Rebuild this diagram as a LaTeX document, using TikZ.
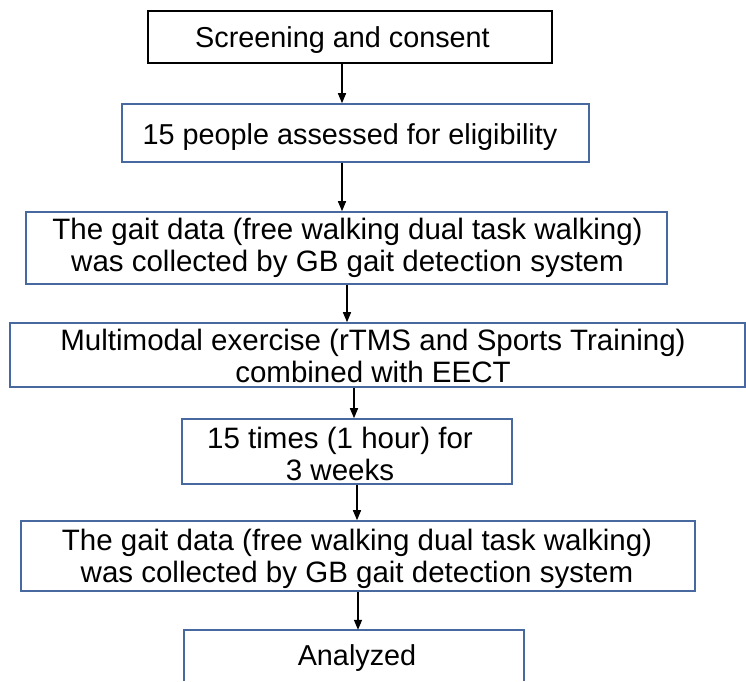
\documentclass[tikz,border=0pt]{standalone}
\usepackage{fontspec}
\setmainfont{Liberation Sans}
\usetikzlibrary{arrows.meta}
\definecolor{boxblue}{RGB}{72,104,160}
\tikzset{
  flowbox/.style={draw=boxblue, line width=1.6pt, inner sep=0pt},
  flowtext/.style={inner sep=0pt, align=center, font=\fontsize{#1}{32}\selectfont},
  flowtext/.default=29.5,
  arr/.style={draw=black, line width=1.4pt, -{Triangle[length=10pt,width=8pt]}}
}
\begin{document}
\begin{tikzpicture}[x=1pt,y=-1pt]
\useasboundingbox[fill=white] (0,0) rectangle (746,681);
% boxes
\node[flowbox, draw=black, minimum width=404pt, minimum height=52pt] (b1) at (350,37) {};
\node[flowbox, minimum width=467pt, minimum height=58pt] (b2) at (355.5,133) {};
\node[flowbox, minimum width=641pt, minimum height=72pt] (b3) at (346.5,248) {};
\node[flowbox, minimum width=735pt, minimum height=64pt] (b4) at (377.5,355) {};
\node[flowbox, minimum width=330pt, minimum height=65pt] (b5) at (347,451.5) {};
\node[flowbox, minimum width=674pt, minimum height=70pt] (b6) at (358,556) {};
\node[inner sep=0pt, minimum width=340pt, minimum height=51pt] (b7) at (354,655.5) {};
\draw[draw=boxblue, line width=1.6pt] (b7.south west) -- (b7.north west) -- (b7.north east) -- (b7.south east);
% texts
\node[flowtext=28.8] (t1) at (342.5,40) {Screening and consent};
\node[flowtext=28.8] (t2) at (350,137) {15 people assessed for eligibility};
\node[flowtext] (t3) at (347.5,248) {The gait data (free walking dual task walking)\\was collected by GB gait detection system};
\node[flowtext] (t4) at (373,356) {Multimodal exercise (rTMS and Sports Training)\\combined with EECT};
\node[flowtext] (t5) at (340,454) {15 times (1 hour) for\\3 weeks};
\node[flowtext] (t6) at (357,558.5) {The gait data (free walking dual task walking)\\was collected by GB gait detection system};
\node[flowtext=28.8] (t7) at (357,658) {Analyzed};
% arrows
\coordinate (x1) at (342,0);
\coordinate (x2) at (342,0);
\coordinate (x3) at (347,0);
\coordinate (x4) at (354,0);
\coordinate (x5) at (357,0);
\coordinate (x6) at (358,0);
\draw[arr] (b1.south -| x1) -- (b2.north -| x1);
\draw[arr] (b2.south -| x2) -- (b3.north -| x2);
\draw[arr] (b3.south -| x3) -- (b4.north -| x3);
\draw[arr] (b4.south -| x4) -- (b5.north -| x4);
\draw[arr] (b5.south -| x5) -- (b6.north -| x5);
\draw[arr] (b6.south -| x6) -- (b7.north -| x6);
\end{tikzpicture}
\end{document}
